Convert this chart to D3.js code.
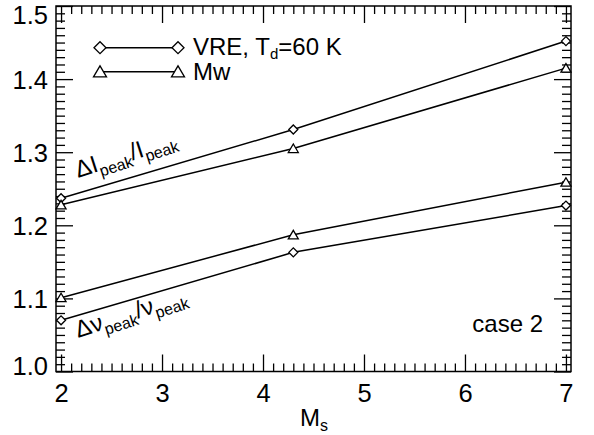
<!DOCTYPE html>
<html><head><meta charset="utf-8">
<script src="https://cdn.jsdelivr.net/npm/d3@7"></script>
<style>
body{margin:0;background:#fff;}
svg{display:block;font-family:"Liberation Sans",Arial,Helvetica,sans-serif;}
</style></head>
<body><svg id="c" width="594" height="435"></svg>
<script>
const ms = [2, 4.3, 7];
const vreI = [1.237, 1.331, 1.452];
const mwI = [1.228, 1.305, 1.415];
const vreNu = [1.070, 1.163, 1.227];
const mwNu = [1.101, 1.187, 1.259];
const xMajor = [2, 3, 4, 5, 6, 7];
const yMajor = [1.0, 1.1, 1.2, 1.3, 1.4, 1.5];
const xDomain = [1.95, 7.05];
const yDomain = [1.0, 1.5];

const svg = d3.select("#c");
const L = 56, R = 571, T = 6, B = 371.5;
const x = d3.scaleLinear().domain(xDomain).range([L, R]);
const y = d3.scaleLinear().domain(yDomain).range([B, T]);
const FS = 24, TFS = 25.5;

const xMinor = d3.range(20, 71).map(v => v / 10).filter(v => Math.abs(v - Math.round(v)) > 1e-6);
const yMinor = d3.range(100, 151).map(v => v / 100).filter(v => Math.abs(v * 10 - Math.round(v * 10)) > 1e-6);

function axisGroup(axis, tf) {
  const g = svg.append("g").attr("transform", tf).call(axis);
  g.select(".domain").remove();
  g.selectAll("line").attr("stroke", "#000").attr("stroke-width", 1.3);
  g.selectAll("text").attr("fill", "#000").attr("font-size", TFS).attr("font-family", null);
  return g;
}
// bottom
axisGroup(d3.axisBottom(x).tickValues(xMajor).tickSizeInner(-17).tickPadding(12).tickFormat(d3.format("d")), `translate(0,${B})`);
axisGroup(d3.axisBottom(x).tickValues(xMinor).tickSizeInner(-8).tickFormat(""), `translate(0,${B})`);
// top
axisGroup(d3.axisTop(x).tickValues(xMajor).tickSizeInner(-17).tickFormat(""), `translate(0,${T})`);
axisGroup(d3.axisTop(x).tickValues(xMinor).tickSizeInner(-8).tickFormat(""), `translate(0,${T})`);
// left
const gl = axisGroup(d3.axisLeft(y).tickValues(yMajor).tickSizeInner(-17).tickPadding(8).tickFormat(d3.format(".1f")), `translate(${L},0)`);
gl.selectAll("text").attr("dy", d => d >= 1.5 ? "0.7em" : (d <= 1.0 ? "0.1em" : "0.36em"));
axisGroup(d3.axisLeft(y).tickValues(yMinor).tickSizeInner(-9).tickFormat(""), `translate(${L},0)`);
// right
axisGroup(d3.axisRight(y).tickValues(yMajor).tickSizeInner(-17).tickFormat(""), `translate(${R},0)`);
axisGroup(d3.axisRight(y).tickValues(yMinor).tickSizeInner(-9).tickFormat(""), `translate(${R},0)`);

svg.append("rect").attr("x", L).attr("y", T).attr("width", R - L).attr("height", B - T)
  .attr("fill", "none").attr("stroke", "#000").attr("stroke-width", 1.5);

const line = d3.line().x(d => x(d[0])).y(d => y(d[1]));
function diamond(g, cx, cy, r) {
  g.append("path").attr("d", `M${cx - r},${cy}L${cx},${cy - r}L${cx + r},${cy}L${cx},${cy + r}Z`)
    .attr("fill", "#fff").attr("stroke", "#000").attr("stroke-width", 1.3);
}
function triangle(g, cx, cy, r) {
  g.append("path").attr("d", `M${cx - r},${cy + r * 0.8}L${cx},${cy - r * 0.9}L${cx + r},${cy + r * 0.8}Z`)
    .attr("fill", "#fff").attr("stroke", "#000").attr("stroke-width", 1.3);
}
const series = [
  {vals: vreI, m: diamond},
  {vals: mwI, m: triangle},
  {vals: vreNu, m: diamond},
  {vals: mwNu, m: triangle}
];
const gd = svg.append("g");
series.forEach(s => {
  const pts = ms.map((v, i) => [v, s.vals[i]]);
  gd.append("path").attr("d", line(pts)).attr("fill", "none").attr("stroke", "#000").attr("stroke-width", 1.5);
});
series.forEach(s => {
  ms.forEach((v, i) => s.m(gd, x(v), y(s.vals[i]), s.m === diamond ? 4.5 : 5));
});

// legend
const lg = svg.append("g");
const legendRows = [
  {y: 47.7, m: diamond, r: 6},
  {y: 71.7, m: triangle, r: 6.5}
];
legendRows.forEach(r => {
  lg.append("line").attr("x1", 100).attr("x2", 178).attr("y1", r.y).attr("y2", r.y).attr("stroke", "#000").attr("stroke-width", 1.5);
  r.m(lg, 100, r.y, r.r);
  r.m(lg, 178, r.y, r.r);
});
const t1 = lg.append("text").attr("x", 193).attr("y", 55).attr("font-size", FS);
t1.append("tspan").text("VRE, T");
t1.append("tspan").attr("font-size", 15).attr("dy", 4).text("d");
t1.append("tspan").attr("dy", -4).text("=60 K");
lg.append("text").attr("x", 193).attr("y", 80).attr("font-size", FS).text("Mw");

// rotated labels
function ratioLabel(px, py, sym, base, ang) {
  const t = svg.append("text").attr("transform", `translate(${px},${py}) rotate(${ang})`).attr("font-size", FS);
  t.append("tspan").text(sym + base);
  t.append("tspan").attr("font-size", 16).attr("dy", 6).text("peak");
  t.append("tspan").attr("dy", -6).text("/" + base);
  t.append("tspan").attr("font-size", 16).attr("dy", 6).text("peak");
}
ratioLabel(78, 178, "\u0394", "I", -18);
ratioLabel(78, 338, "\u0394", "\u03bd", -18);

svg.append("text").attr("x", 543).attr("y", 332).attr("text-anchor", "end").attr("font-size", FS).text("case 2");

const xl = svg.append("text").attr("x", 300).attr("y", 426).attr("font-size", FS);
xl.append("tspan").text("M");
xl.append("tspan").attr("font-size", 16).attr("dy", 5).text("s");
</script></body></html>
